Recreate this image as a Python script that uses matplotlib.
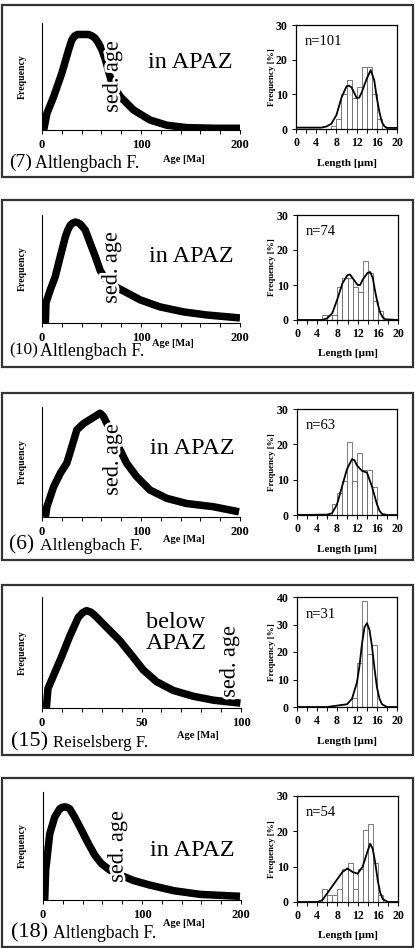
import matplotlib
matplotlib.use('Agg')
import matplotlib.pyplot as plt
import matplotlib.patheffects as pe
from matplotlib.patches import Rectangle
from matplotlib.ticker import MultipleLocator

plt.rcParams['font.family'] = ['Liberation Serif', 'DejaVu Serif']

# ---------------- data ----------------
labels_num = ['(7)', '(10)', '(6)', '(15)', '(18)']
labels_name = ['Altlengbach F.', 'Altlengbach F.', 'Altlengbach F.', 'Reiselsberg F.', 'Altlengbach F.']
zone_text = ['in APAZ', 'in APAZ', 'in APAZ', 'below\nAPAZ', 'in APAZ']
n_grains = [101, 74, 63, 31, 54]
age_max = [200, 200, 200, 100, 200]

# age-distribution curves (age in Ma, relative frequency)
age_7 = [1.7, 5, 11.8, 20.2, 26.9, 30, 33, 36, 38.7, 43, 47, 50.5, 53.8, 57, 60.5, 63.9, 70.6, 79, 92.4, 109, 126, 146, 176, 200]
frq_7 = [0, 0.175, 0.35, 0.6, 0.84, 0.94, 0.985, 1.0, 1.0, 1.0, 1.0, 0.985, 0.96, 0.91, 0.84, 0.74, 0.49, 0.35, 0.21, 0.105, 0.05, 0.025, 0.018, 0.018]
age_10 = [3.4, 4, 8.4, 13.4, 18.5, 23.5, 26, 28.6, 31, 33.6, 36, 38.7, 43.7, 48.7, 53.8, 58.8, 63.9, 74, 85.7, 99, 119, 143, 166, 200]
frq_10 = [0, 0.2, 0.33, 0.46, 0.66, 0.85, 0.92, 0.97, 0.99, 1.0, 0.995, 0.98, 0.92, 0.79, 0.66, 0.52, 0.44, 0.36, 0.30, 0.23, 0.16, 0.11, 0.08, 0.05]
age_6 = [3.4, 5, 11.7, 18.4, 25.1, 30.2, 35.2, 41.9, 48.6, 55.3, 58.6, 62, 78.7, 85.4, 95.5, 109, 126, 146, 172.5, 199]
frq_6 = [0, 0.1, 0.29, 0.42, 0.52, 0.68, 0.84, 0.90, 0.94, 0.98, 1.0, 0.97, 0.65, 0.52, 0.39, 0.26, 0.18, 0.13, 0.10, 0.05]
age_15 = [2.2, 3.0, 5.5, 9.7, 14, 18.2, 20.5, 22.4, 24.5, 26.6, 32.4, 39.2, 45.9, 50.9, 57.6, 66, 76.1, 86.2, 99.7]
frq_15 = [0, 0.2, 0.32, 0.52, 0.74, 0.93, 0.98, 1.0, 0.985, 0.95, 0.83, 0.69, 0.52, 0.39, 0.27, 0.18, 0.12, 0.08, 0.05]
age_18 = [1.7, 2.7, 6.8, 11.8, 16.9, 19.5, 22, 24.5, 27, 32, 38.9, 45.6, 52.4, 59.1, 67.6, 77.7, 91.2, 108, 132, 159, 199]
frq_18 = [0, 0.32, 0.71, 0.89, 0.98, 0.995, 1.0, 0.995, 0.98, 0.89, 0.75, 0.61, 0.48, 0.39, 0.32, 0.27, 0.21, 0.16, 0.10, 0.06, 0.04]

# track-length histograms (bin left edge in um, percent)
bins_7 = [7, 8, 9, 10, 11, 12, 13, 14, 15, 16]
hist_7 = [1, 3, 10, 14, 9, 12, 18, 18, 10, 3]
bins_10 = [5, 6, 7, 8, 9, 10, 11, 12, 13, 14, 15, 16]
hist_10 = [1.4, 1.4, 1.4, 9.5, 12, 12, 9.5, 8, 17, 13.5, 5.4, 2.7]
bins_6 = [7, 8, 9, 10, 11, 12, 13, 14, 15]
hist_6 = [3.2, 6.3, 9.5, 20.6, 9.5, 17.5, 12.7, 12.7, 7.9]
bins_15 = [11, 12, 13, 14, 15]
hist_15 = [3.2, 16.1, 38.7, 19.4, 22.6]
bins_18 = [5, 6, 7, 8, 9, 10, 11, 12, 13, 14, 15, 16]
hist_18 = [3.7, 1.85, 1.85, 3.7, 9.3, 11.1, 3.7, 9.3, 20.4, 22.2, 11.1, 1.85]

# fitted length curves (um, percent)
len_7 = [0, 5, 6, 7, 8, 9, 10, 10.5, 11, 12, 12.5, 13, 14, 14.8, 15.5, 16, 16.5, 17, 17.5, 18, 20]
pct_7 = [0.4, 0.4, 0.7, 1.5, 4, 9, 12.3, 12.5, 12, 9, 9, 10.5, 14.5, 17, 14, 9, 5, 2, 0.8, 0.3, 0.3]
len_10 = [0, 5, 6, 7, 8, 9, 10, 10.5, 11, 12, 12.5, 13, 14, 14.5, 15, 15.5, 16, 16.5, 17, 17.5, 20]
pct_10 = [0, 0, 0.5, 2, 6, 10.5, 12.8, 13, 12, 10, 10, 11.5, 13.5, 13.7, 12, 8, 4.5, 2, 0.7, 0.2, 0]
len_6 = [0, 6, 7, 8, 9, 10, 11, 11.5, 12, 13, 14, 15, 16, 16.5, 17, 18, 20]
pct_6 = [0, 0.1, 0.5, 3, 8, 13, 15.8, 15.5, 14, 12.5, 12, 8, 3, 1.2, 0.3, 0, 0]
len_15 = [0, 6, 8, 10, 11, 12, 12.5, 13, 13.5, 14, 14.5, 15, 15.5, 16, 16.5, 17, 18, 20]
pct_15 = [0, 0, 0.5, 1, 3, 9, 15, 23, 29, 30.5, 28, 22, 14, 7, 3, 1, 0, 0]
len_18 = [0, 4, 5, 6, 7, 8, 9, 10, 11, 12, 13, 14, 14.5, 15, 15.5, 16, 16.5, 17, 18, 20]
pct_18 = [0, 0, 0.5, 2.5, 4.5, 6.5, 8.5, 9.5, 8.5, 8, 10, 14.5, 16.5, 15, 11, 6, 2.5, 0.8, 0, 0]

ages = [age_7, age_10, age_6, age_15, age_18]
frqs = [frq_7, frq_10, frq_6, frq_15, frq_18]
bins = [bins_7, bins_10, bins_6, bins_15, bins_18]
hists = [hist_7, hist_10, hist_6, hist_15, hist_18]
lens = [len_7, len_10, len_6, len_15, len_18]
pcts = [pct_7, pct_10, pct_6, pct_15, pct_18]

# ---------------- layout (pixels) ----------------
W, H = 415, 948
fig = plt.figure(figsize=(W / 100, H / 100), dpi=100)

boxes = [(5, 177), (200, 367), (393, 560), (585, 755), (778, 947)]
left_ax = [(42, 240, 23, 130), (42, 240, 215, 323), (42, 240, 407, 517), (42, 241, 597, 708), (43, 241, 792, 900)]
hist_ax = [(296, 397, 25, 129), (297, 398, 215, 320), (297, 397, 409, 515), (297, 397, 597, 707), (297, 398, 796, 902)]
ylim_top = [1.12, 1.07, 1.06, 1.14, 1.16]
hist_ymax = [30, 30, 30, 40, 30]
sed_pos = [(113, 77), (112, 268), (113, 460), (230, 662), (118, 847)]
zone_pos = [(190, 63), (191, 256), (192, 449), (176, 633), (192, 850)]
num_pos = [(9, 162), (9, 350), (9, 545), (11, 742), (11, 933)]
num_size = [14, 12.5, 15.5, 16, 16]
name_x = [35, 40, 40, 53, 53]
name_size = [12.8, 12.8, 12.6, 12.2, 12.7]
agelab_pos = [(163, 160), (152, 344), (163, 540), (177, 735), (163, 924)]


def fx(x):
    return x / W


def fy(y):
    return 1 - y / H


def add_ax(x0, x1, yt, yb):
    return fig.add_axes([fx(x0), fy(yb), (x1 - x0) / W, (yb - yt) / H])


halo = [pe.withStroke(linewidth=4, foreground='white')]

for i in range(5):
    # panel frame
    bt, bb = boxes[i]
    fig.patches.append(Rectangle((fx(2), fy(bb)), (411) / W, (bb - bt) / H,
                                 transform=fig.transFigure, fill=False,
                                 edgecolor='#333333', linewidth=1.6))

    # ---- age distribution ----
    ax = add_ax(*left_ax[i])
    ax.plot(ages[i], frqs[i], color='black', lw=5.4, solid_joinstyle='round',
            solid_capstyle='butt', zorder=2)
    ax.set_xlim(0, age_max[i])
    ax.set_ylim(0, ylim_top[i])
    for s in ['top', 'right']:
        ax.spines[s].set_visible(False)
    ax.spines['left'].set_linewidth(0.8)
    ax.spines['bottom'].set_linewidth(0.8)
    ax.set_yticks([])
    ax.set_xticks([0, age_max[i] / 2, age_max[i]])
    ax.set_xticklabels(['0', str(age_max[i] // 2), str(age_max[i])])
    ax.xaxis.set_minor_locator(MultipleLocator(age_max[i] / 10))
    ax.tick_params(axis='x', which='both', direction='out', length=3, width=0.7,
                   pad=3.5, labelsize=9)
    for t in ax.get_xticklabels():
        t.set_fontweight('bold')
    ax.patch.set_alpha(0)

    # sed. age label (white halo hides the curve under the letters)
    sx, sy = sed_pos[i]
    fig.text(fx(sx), fy(sy), 'sed. age', rotation=90, ha='center', va='center',
             fontsize=16, zorder=10, path_effects=halo)
    zx, zy = zone_pos[i]
    fig.text(fx(zx), fy(zy), zone_text[i], ha='center', va='center', fontsize=17.5,
             linespacing=1.0)

    # y label
    yt, yb = left_ax[i][2], left_ax[i][3]
    fig.text(fx(22), fy((yt + yb) / 2), 'Frequency', rotation=90, ha='center',
             va='center', fontsize=7, fontweight='bold')

    # panel label
    nx, ny = num_pos[i]
    fig.text(fx(nx), fy(ny), labels_num[i], ha='left', va='center', fontsize=num_size[i])
    fig.text(fx(name_x[i]), fy(ny + 1), labels_name[i], ha='left', va='center',
             fontsize=name_size[i])
    ax_, ay_ = agelab_pos[i]
    fig.text(fx(ax_), fy(ay_), 'Age [Ma]', ha='left', va='center', fontsize=7.5,
             fontweight='bold')

    # ---- track length histogram ----
    hx = add_ax(*hist_ax[i])
    hx.bar(bins[i], hists[i], width=1, align='edge', facecolor='white',
           edgecolor='#666666', linewidth=0.6, zorder=1)
    hx.plot(lens[i], pcts[i], color='black', lw=1.3, zorder=3)
    hx.set_xlim(0, 20)
    hx.set_ylim(0, hist_ymax[i])
    hx.set_xticks([0, 4, 8, 12, 16, 20])
    hx.set_yticks(list(range(0, hist_ymax[i] + 1, 10)))
    hx.xaxis.set_minor_locator(MultipleLocator(2))
    hx.tick_params(axis='both', which='both', direction='out', length=3,
                   width=0.7, pad=3, labelsize=8.5)
    for t in hx.get_xticklabels() + hx.get_yticklabels():
        t.set_fontweight('bold')
    for s in hx.spines.values():
        s.set_linewidth(0.9)
    hx0, hx1, hyt, hyb = hist_ax[i]
    fig.text(fx(272), fy((hyt + hyb) / 2), 'Frequency [%]', rotation=90,
             ha='center', va='center', fontsize=6.5, fontweight='bold')
    fig.text(fx((hx0 + hx1) / 2), fy(hyb + 34), 'Length [\u00b5m]', ha='center',
             va='center', fontsize=8, fontweight='bold')
    hx.text(0.09, 0.84, 'n=%d' % n_grains[i], transform=hx.transAxes,
            fontsize=10.5, ha='left', va='center')

fig.savefig('out.png', dpi=100, facecolor='white')
